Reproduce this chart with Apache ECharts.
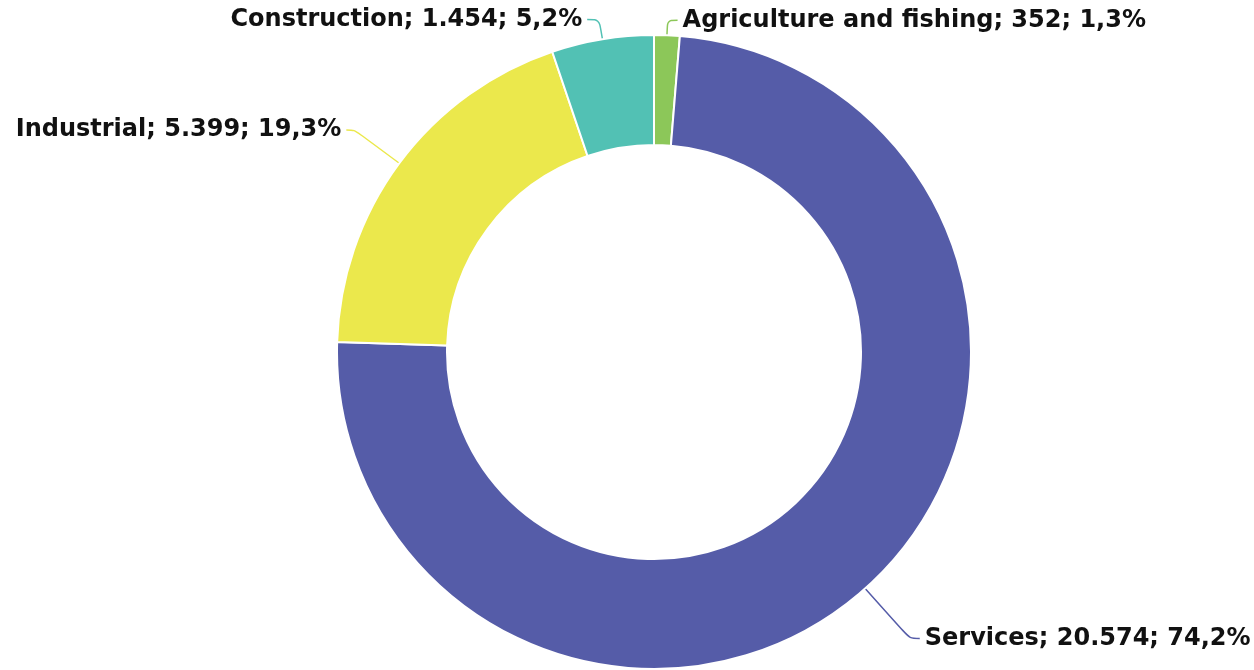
<!DOCTYPE html>
<html>
<head>
<meta charset="utf-8">
<script src="https://cdn.jsdelivr.net/npm/echarts@6/dist/echarts.min.js"></script>
<style>
  html, body { margin: 0; padding: 0; background: #fff; }
  #chart { width: 1254px; height: 670px; }
</style>
</head>
<body>
<div id="chart"></div>
<script>
// Employment by sector: counts and share of total
const categories = ['Agriculture and fishing', 'Services', 'Industrial', 'Construction'];
const counts = ['352', '20.574', '5.399', '1.454'];
const shares = [1.3, 74.2, 19.3, 5.2];
const colors = ['#8cc759', '#555ca8', '#ebe84c', '#52c1b4'];
// leader line lengths per slice: [radial, horizontal]
const lineLengths = [[15, 10], [67, 10], [56, 8], [20, 12]];

const fmtShare = v => v.toFixed(1).replace('.', ',') + '%';

const data = categories.map((name, i) => ({
  name,
  value: shares[i],
  itemStyle: { color: colors[i] },
  labelLine: { length: lineLengths[i][0], length2: lineLengths[i][1] }
}));

const chart = echarts.init(document.getElementById('chart'));
chart.setOption({
  animation: false,
  series: [{
    type: 'pie',
    center: [654, 352],
    radius: [207, 317],
    startAngle: 90,
    clockwise: true,
    avoidLabelOverlap: false,
    itemStyle: { borderColor: '#ffffff', borderWidth: 2 },
    label: {
      show: true,
      position: 'outside',
      color: '#111111',
      fontFamily: 'DejaVu Sans',
      fontWeight: 'bold',
      fontSize: 24,
      overflow: 'none',
      formatter: p => `${p.name}; ${counts[p.dataIndex]}; ${fmtShare(shares[p.dataIndex])}`
    },
    labelLine: {
      show: true,
      smooth: 0.3,
      lineStyle: { width: 1.5 }
    },
    data
  }]
});
</script>
</body>
</html>
